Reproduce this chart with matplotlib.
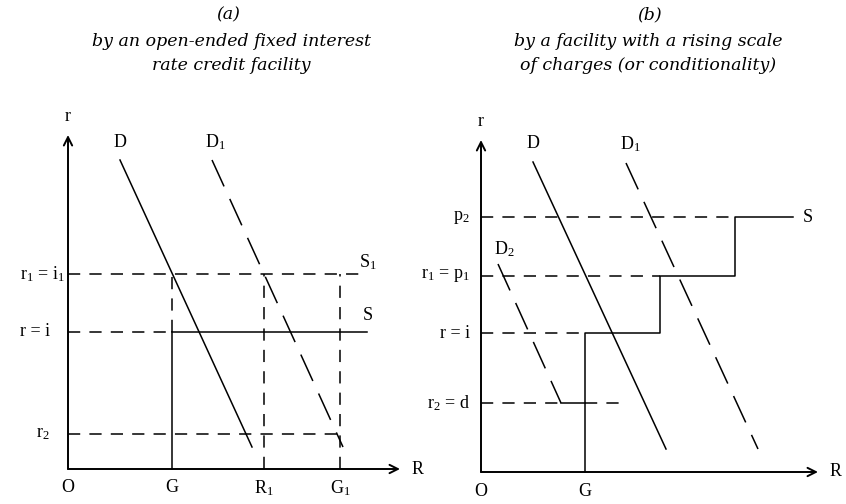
import matplotlib
matplotlib.use("Agg")
import matplotlib.pyplot as plt

plt.rcParams['font.family'] = ['Liberation Serif', 'DejaVu Serif']
plt.rcParams['mathtext.fontset'] = 'custom'
plt.rcParams['mathtext.rm'] = 'Liberation Serif'
plt.rcParams['mathtext.it'] = 'Liberation Serif:italic'

# ---- panel (a): open-ended fixed interest rate facility ----
a_rates = {'r1_i1': 19.5, 'r_i': 13.7, 'r2': 3.5}
a_quant = {'G': 10.4, 'R1': 19.6, 'G1': 27.2}
a_s_end = 29.9
a_D = ([5.2, 18.4], [30.9, 2.2])
a_D1 = ([14.4, 27.5], [30.9, 2.2])
a_ylabels = [r'r$\mathregular{_1}$ = i$\mathregular{_1}$', 'r = i', r'r$\mathregular{_2}$']
a_xlabels = ['O', 'G', r'R$\mathregular{_1}$', r'G$\mathregular{_1}$']

# ---- panel (b): rising scale of charges ----
b_rates = {'p2': 25.5, 'p1': 19.6, 'i': 13.9, 'd': 6.9}
b_G = 10.4
b_steps_x = [10.4, 17.9, 25.4, 31.2]
b_D = ([5.2, 18.5], [31.0, 2.3])
b_D1 = ([14.5, 27.7], [30.9, 2.3])
b_D2 = ([1.7, 8.0], [20.8, 6.9])
b_d_end = 14.0
b_ylabels = [r'p$\mathregular{_2}$', r'r$\mathregular{_1}$ = p$\mathregular{_1}$', 'r = i',
             r'r$\mathregular{_2}$ = d']

W, H = 846, 504
fig = plt.figure(figsize=(W / 100, H / 100), dpi=100)

LW = 1.1
DASH = (8, 6)
LONG = (19, 9)
FS = 13
TFS = 12.5


def make_axes(ox, oy, xmax, ymax):
    # ox, oy: origin in pixels from top-left; one data unit is 10 px
    ax = fig.add_axes([ox / W, (H - oy) / H, xmax * 10 / W, ymax * 10 / H])
    ax.set_xlim(0, xmax)
    ax.set_ylim(0, ymax)
    ax.axis('off')
    arrow = dict(arrowstyle='->,head_length=0.6,head_width=0.3', lw=1.4, color='black',
                 shrinkA=0, shrinkB=0)
    ax.annotate('', xy=(0, ymax), xytext=(0, 0), arrowprops=arrow)
    ax.annotate('', xy=(xmax, 0), xytext=(0, 0), arrowprops=arrow)
    ax.text(0, ymax + 1.0, 'r', ha='center', va='bottom', fontsize=FS)
    ax.text(xmax + 1.2, 0, 'R', ha='left', va='center', fontsize=FS)
    return ax


def dashed(ax, xs, ys, dashes=DASH):
    ax.plot(xs, ys, color='black', lw=LW, dashes=dashes, clip_on=False)


def solid(ax, xs, ys):
    ax.plot(xs, ys, color='black', lw=LW, clip_on=False)


# panel (a)
axa = make_axes(68, 469, 33.2, 33.4)
r1, ri, r2 = a_rates['r1_i1'], a_rates['r_i'], a_rates['r2']
G, R1, G1 = a_quant['G'], a_quant['R1'], a_quant['G1']
dashed(axa, [0, a_s_end], [r1, r1])
dashed(axa, [0, G], [ri, ri])
solid(axa, [G, a_s_end], [ri, ri])
dashed(axa, [0, G1], [r2, r2])
dashed(axa, [G, G], [ri, r1])
solid(axa, [G, G], [0, ri])
dashed(axa, [R1, R1], [0, r1])
dashed(axa, [G1, G1], [0, r1])
solid(axa, *a_D)
dashed(axa, *a_D1, dashes=LONG)
for lvl, lab, off in zip([r1, ri, r2], a_ylabels, [-0.3, -1.8, -1.8]):
    axa.text(off, lvl, lab, ha='right', va='center', fontsize=FS)
for xv, lab in zip([0, G, R1, G1], a_xlabels):
    axa.text(xv, -1.9, lab, ha='center', va='center', fontsize=FS)
axa.text(a_D[0][0], a_D[1][0] + 1.8, 'D', ha='center', va='center', fontsize=FS)
axa.text(a_D1[0][0] + 0.3, a_D1[1][0] + 1.8, r'D$\mathregular{_1}$', ha='center', va='center', fontsize=FS)
axa.text(a_s_end - 0.8, r1 + 1.2, r'S$\mathregular{_1}$', ha='left', va='center', fontsize=FS)
axa.text(a_s_end - 0.4, ri + 1.7, 'S', ha='left', va='center', fontsize=FS)

# panel (b)
axb = make_axes(481, 472, 33.7, 33.2)
p2, p1, bi, bd = b_rates['p2'], b_rates['p1'], b_rates['i'], b_rates['d']
dashed(axb, [0, b_steps_x[2]], [p2, p2])
dashed(axb, [0, b_steps_x[1]], [p1, p1])
dashed(axb, [0, b_G], [bi, bi])
dashed(axb, [0, b_D2[0][1]], [bd, bd])
solid(axb, [b_D2[0][1], b_G], [bd, bd])
dashed(axb, [b_G, b_d_end], [bd, bd])
sx = [b_steps_x[0], b_steps_x[0], b_steps_x[1], b_steps_x[1], b_steps_x[2], b_steps_x[2], b_steps_x[3]]
sy = [0, bi, bi, p1, p1, p2, p2]
solid(axb, sx, sy)
solid(axb, *b_D)
dashed(axb, *b_D1, dashes=LONG)
dashed(axb, *b_D2, dashes=LONG)
for lvl, lab in zip([p2, p1, bi, bd], b_ylabels):
    axb.text(-1.1, lvl, lab, ha='right', va='center', fontsize=FS)
axb.text(0, -2.0, 'O', ha='center', va='center', fontsize=FS)
axb.text(b_G, -2.0, 'G', ha='center', va='center', fontsize=FS)
axb.text(b_D[0][0], b_D[1][0] + 1.9, 'D', ha='center', va='center', fontsize=FS)
axb.text(b_D1[0][0] + 0.4, b_D1[1][0] + 1.9, r'D$\mathregular{_1}$', ha='center', va='center', fontsize=FS)
axb.text(b_D2[0][0] + 0.6, b_D2[1][0] + 1.5, r'D$\mathregular{_2}$', ha='center', va='center', fontsize=FS)
axb.text(b_steps_x[3] + 1.0, p2, 'S', ha='left', va='center', fontsize=FS)

# titles
title_font = dict(family=['DejaVu Serif'], style='italic', fontsize=TFS, ha='center', va='center')
fig.text(228 / W, 1 - 15 / H, '(a)', **title_font)
fig.text(231 / W, 1 - 42 / H, 'by an open-ended fixed interest', **title_font)
fig.text(231 / W, 1 - 65 / H, 'rate credit facility', **title_font)
fig.text(650 / W, 1 - 15 / H, '(b)', **title_font)
fig.text(648 / W, 1 - 41 / H, 'by a facility with a rising scale', **title_font)
fig.text(648 / W, 1 - 66 / H, 'of charges (or conditionality)', **title_font)

fig.savefig('out.png', dpi=100)
